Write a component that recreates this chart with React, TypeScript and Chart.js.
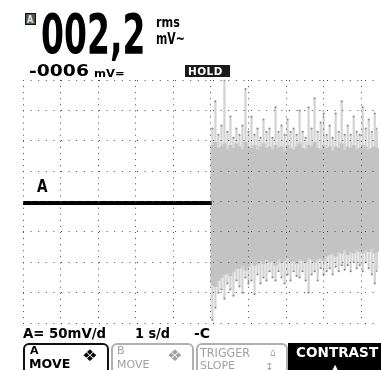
import React, { useEffect, useRef } from "react";
import { Chart, registerables } from "chart.js";
Chart.register(...registerables);

// trace before the signal arrives (divisions)
const flatX = [0, 5.02];
const flatY = [-0.05, -0.05];

// sample times of the noisy part (divisions)
const noiseX = [5.04, 5.12, 5.2, 5.28, 5.36, 5.44, 5.52, 5.6, 5.68, 5.76, 5.84, 5.92, 6.0, 6.08, 6.16, 6.24, 6.32, 6.4, 6.48, 6.56, 6.64, 6.72, 6.8, 6.88, 6.96, 7.04, 7.12, 7.2, 7.28, 7.36, 7.44, 7.52, 7.6, 7.68, 7.76, 7.84, 7.92, 8.0, 8.08, 8.16, 8.24, 8.32, 8.4, 8.48, 8.56, 8.64, 8.72, 8.8, 8.88, 8.96, 9.04, 9.12, 9.2, 9.28, 9.36, 9.42];
const upSpike = [2.4, 3.3, 2.2, 2.5, 4.0, 2.3, 2.8, 2.1, 2.4, 2.2, 2.5, 3.7, 2.3, 2.8, 2.2, 2.4, 2.1, 2.7, 2.3, 2.4, 2.1, 3.1, 2.3, 2.5, 2.2, 2.7, 2.3, 2.4, 2.2, 3.0, 2.3, 2.1, 3.1, 2.4, 3.4, 2.3, 2.6, 2.9, 2.2, 2.5, 2.1, 2.9, 2.3, 3.3, 2.2, 2.5, 2.2, 2.8, 2.3, 2.2, 3.1, 2.4, 2.7, 2.3, 2.9, 2.4];
const upEnv = [1.85, 1.95, 1.75, 1.8, 1.9, 1.7, 1.85, 1.75, 1.9, 1.8, 1.7, 1.95, 1.8, 1.75, 1.85, 1.7, 1.8, 1.9, 1.75, 1.8, 1.7, 1.85, 1.75, 1.8, 1.65, 1.85, 1.75, 1.7, 1.8, 1.9, 1.75, 1.7, 1.85, 1.8, 1.95, 1.75, 1.7, 1.85, 1.75, 1.8, 1.65, 1.8, 1.75, 1.9, 1.7, 1.8, 1.75, 1.85, 1.7, 1.75, 1.85, 1.8, 1.7, 1.75, 1.8, 1.75];
const loEnv = [-2.75, -2.8, -2.6, -2.5, -2.4, -2.35, -2.45, -2.3, -2.2, -2.2, -2.1, -2.25, -2.15, -2.0, -2.1, -2.05, -1.95, -2.05, -1.9, -2.0, -1.95, -2.1, -1.9, -2.0, -1.95, -1.85, -2.0, -1.95, -2.05, -1.9, -1.95, -2.0, -1.85, -1.9, -2.0, -1.9, -1.85, -1.95, -1.8, -1.75, -1.7, -1.8, -1.65, -1.7, -1.6, -1.75, -1.65, -1.7, -1.6, -1.65, -1.7, -1.6, -1.65, -1.55, -1.7, -1.65];
const loSpike = [-3.9, -3.5, -3.0, -2.9, -3.2, -2.7, -2.9, -3.1, -2.6, -2.8, -3.0, -2.5, -2.7, -2.6, -3.05, -2.4, -2.7, -2.5, -2.6, -2.3, -2.5, -2.6, -2.3, -2.5, -2.7, -2.4, -2.6, -2.3, -2.45, -2.5, -2.3, -2.6, -3.0, -2.4, -2.3, -2.6, -2.2, -2.4, -2.3, -2.2, -2.4, -2.15, -2.3, -2.1, -2.25, -2.1, -2.3, -2.0, -2.2, -2.1, -2.3, -2.0, -2.2, -2.4, -2.7, -2.3];

const FONT = '"DejaVu Sans", "Liberation Sans", sans-serif';

function Txt(p: { x: number; base: number; fs: number; sx?: number; text: string; color?: string; weight?: number; ls?: number }) {
  const { x, base, fs, sx = 1, text, color = "#000", weight = 700, ls = 0 } = p;
  return (
    <div
      style={{
        position: "absolute",
        left: x,
        top: base - 0.928 * fs,
        fontFamily: FONT,
        fontSize: fs,
        lineHeight: `${1.164 * fs}px`,
        fontWeight: weight,
        color,
        whiteSpace: "pre",
        transform: `scaleX(${sx})`,
        transformOrigin: "0 0",
        letterSpacing: ls,
      }}
    >
      {text}
    </div>
  );
}

export default function App() {
  const ref = useRef<HTMLCanvasElement | null>(null);
  useEffect(() => {
    if (!ref.current) return;
    const chart = new Chart(ref.current, {
      type: "bar",
      data: {
        datasets: [
          {
            type: "line",
            data: flatX.map((x, i) => ({ x, y: flatY[i] })),
            borderColor: "#000",
            borderWidth: 4,
            pointRadius: 0,
            order: 0,
          } as any,
          {
            type: "scatter",
            data: noiseX.flatMap((x, i) => [
              { x, y: upSpike[i] },
              { x, y: loSpike[i] },
            ]),
            pointRadius: 1,
            pointBorderWidth: 0,
            pointBackgroundColor: "#8a8a8a",
            showLine: false,
            order: 1,
          } as any,
          {
            type: "bar",
            data: noiseX.map((x, i) => ({ x, y: [loEnv[i], upEnv[i]] })),
            backgroundColor: "#c3c3c3",
            borderWidth: 0,
            barThickness: 3.3,
            grouped: false,
            clip: 4,
            order: 2,
          } as any,
          {
            type: "bar",
            data: noiseX.map((x, i) => ({ x, y: [loSpike[i], upSpike[i]] })),
            backgroundColor: "#d3d3d3",
            borderWidth: 0,
            barThickness: 1.6,
            grouped: false,
            clip: 4,
            order: 3,
          } as any,
        ],
      },
      options: {
        animation: false,
        responsive: false,
        maintainAspectRatio: false,
        layout: { padding: { left: 23, top: 80, right: 0, bottom: 47 } },
        plugins: { legend: { display: false }, tooltip: { enabled: false } },
        scales: {
          x: {
            type: "linear",
            min: 0,
            max: 9.42,
            offset: false,
            ticks: { display: false, stepSize: 1, includeBounds: false },
            grid: { color: "#4a4a4a", lineWidth: 1, drawTicks: false, offset: false, z: 1 },
            border: { display: false, dash: [1, 5.08] },
            afterFit: (s: any) => {
              s.height = 0;
            },
          },
          y: {
            type: "linear",
            min: -4,
            max: 4,
            ticks: { display: false, stepSize: 1 },
            grid: { color: "#4a4a4a", lineWidth: 1, drawTicks: false, z: 1 },
            border: { display: false, dash: [1, 6.6] },
            afterFit: (s: any) => {
              s.width = 0;
            },
          },
        },
      } as any,
    });
    return () => chart.destroy();
  }, []);

  const keyBase: React.CSSProperties = {
    position: "absolute",
    top: 343,
    height: 40,
    borderTopLeftRadius: 6,
    borderTopRightRadius: 6,
    boxSizing: "border-box",
  };

  return (
    <div style={{ position: "fixed", left: 0, top: 0, width: 381, height: 370, background: "#fff", overflow: "hidden" }}>
      <canvas ref={ref} width={381} height={370} style={{ position: "absolute", left: 0, top: 0, width: 381, height: 370 }} />

      {/* channel A badge */}
      <div style={{ position: "absolute", left: 25, top: 13, width: 11, height: 12, background: "#555", border: "1px solid #111", boxSizing: "border-box" }} />
      <Txt x={27} base={23} fs={10} sx={0.8} text="A" color="#eee" />

      <Txt x={41} base={53} fs={55} sx={0.6} text="002,2" />
      <Txt x={156} base={27} fs={14} sx={0.8} text="rms" />
      <Txt x={156} base={45} fs={16} sx={0.68} text="mV~" />

      <Txt x={29} base={77} fs={15} sx={1.25} text="-0006" />
      <Txt x={94} base={78} fs={11} sx={1.05} text="mV=" />

      {/* HOLD */}
      <div style={{ position: "absolute", left: 185, top: 65, width: 45, height: 12, background: "#1a1a1a" }} />
      <Txt x={188} base={76} fs={11} sx={0.95} text="HOLD" color="#fff" ls={0.5} />

      <Txt x={37} base={193} fs={17} sx={0.8} text="A" />

      {/* status line */}
      <Txt x={23} base={338} fs={14} sx={0.95} text="A= 50mV/d" />
      <Txt x={135} base={338} fs={14} sx={0.92} text="1 s/d" />
      <Txt x={194} base={338} fs={14} sx={1.0} text="-C" />

      {/* soft keys */}
      <div style={{ ...keyBase, left: 23, width: 86, border: "2px solid #111" }} />
      <Txt x={30} base={355} fs={11} sx={1.0} text="A" />
      <Txt x={29} base={369} fs={12} sx={1.05} text="MOVE" />
      <Txt x={82} base={362} fs={16} sx={1.1} text="❖" weight={400} />

      <div style={{ ...keyBase, left: 111, width: 83, border: "2px solid #b0b0b0" }} />
      <Txt x={117} base={355} fs={11} sx={1.0} text="B" color="#a0a0a0" weight={400} />
      <Txt x={117} base={369} fs={11} sx={1.0} text="MOVE" color="#a0a0a0" weight={400} />
      <Txt x={167} base={362} fs={16} sx={1.1} text="❖" color="#a0a0a0" weight={400} />

      <div style={{ ...keyBase, left: 196, width: 92, border: "2px solid #b0b0b0" }} />
      <Txt x={200} base={357} fs={13} sx={0.86} text="TRIGGER" color="#a0a0a0" weight={400} />
      <Txt x={270} base={357} fs={11} sx={0.8} text="⌂" color="#a0a0a0" weight={400} />
      <Txt x={200} base={370} fs={11} sx={1.0} text="SLOPE" color="#a0a0a0" weight={400} />
      <Txt x={265} base={370} fs={10} sx={1.0} text="↕" color="#a0a0a0" weight={400} />

      <div style={{ position: "absolute", left: 288, top: 343, width: 93, height: 30, background: "#000" }} />
      <Txt x={296} base={357} fs={14} sx={0.97} text="CONTRAST" color="#fff" />
      <Txt x={332} base={370} fs={8} sx={1.0} text="▲" color="#fff" />
    </div>
  );
}
